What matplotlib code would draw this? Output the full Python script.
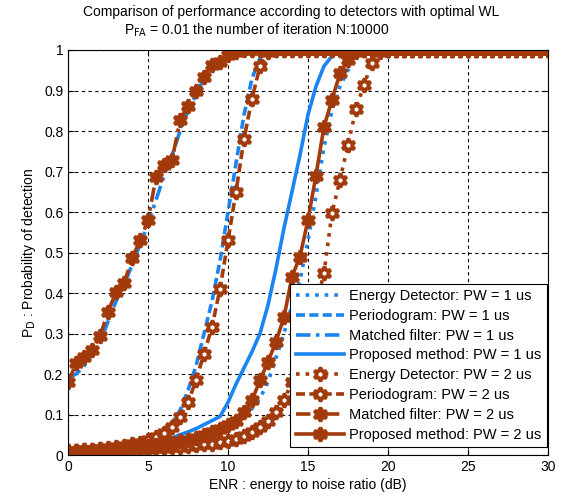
import numpy as np
import matplotlib
matplotlib.use("Agg")
import matplotlib.pyplot as plt

plt.rcParams['font.family'] = ['Liberation Sans', 'DejaVu Sans']

# ENR grid (dB), 0.5 dB steps
enr = np.arange(0, 30.5, 0.5)

# detection probability curves (values up to where they hit 1)
mf_pw1 = [0.19, 0.20, 0.22, 0.25, 0.28, 0.33, 0.38, 0.42, 0.47, 0.52, 0.57, 0.63,
          0.69, 0.74, 0.80, 0.85, 0.89, 0.93, 0.96, 0.98, 0.99, 1.0]
per_pw1 = [0.010, 0.011, 0.012, 0.013, 0.015, 0.017, 0.020, 0.023, 0.027, 0.032,
           0.039, 0.048, 0.060, 0.080, 0.110, 0.160, 0.220, 0.300, 0.380, 0.480,
           0.600, 0.720, 0.840, 0.930, 0.980, 1.0]
prop_pw1 = [0.010, 0.011, 0.012, 0.013, 0.014, 0.015, 0.017, 0.019, 0.021, 0.023,
            0.026, 0.030, 0.035, 0.042, 0.050, 0.057, 0.065, 0.075, 0.085, 0.095,
            0.130, 0.175, 0.215, 0.255, 0.300, 0.370, 0.460, 0.560, 0.650, 0.740,
            0.840, 0.910, 0.960, 0.985, 1.0]
ed_pw1 = [0.010, 0.011, 0.012, 0.013, 0.014, 0.015, 0.016, 0.017, 0.018, 0.020,
          0.022, 0.024, 0.027, 0.030, 0.033, 0.037, 0.041, 0.046, 0.052, 0.060,
          0.070, 0.080, 0.095, 0.115, 0.140, 0.180, 0.240, 0.300, 0.370, 0.430,
          0.530, 0.640, 0.760, 0.850, 0.910, 0.950, 0.980, 1.0]

mf_pw2 = [0.180, 0.226, 0.243, 0.260, 0.294, 0.354, 0.403, 0.424, 0.486, 0.530,
          0.580, 0.687, 0.716, 0.728, 0.827, 0.862, 0.900, 0.934, 0.963, 0.971,
          0.988, 0.996, 1.0]
per_pw2 = [0.010, 0.011, 0.012, 0.013, 0.015, 0.017, 0.019, 0.022, 0.026, 0.030,
           0.036, 0.045, 0.055, 0.070, 0.095, 0.130, 0.185, 0.250, 0.317, 0.410,
           0.530, 0.650, 0.780, 0.880, 0.960, 0.995, 1.0]
prop_pw2 = [0.010, 0.011, 0.012, 0.013, 0.014, 0.015, 0.016, 0.017, 0.018, 0.020,
            0.022, 0.024, 0.027, 0.030, 0.034, 0.038, 0.043, 0.049, 0.056, 0.065,
            0.075, 0.085, 0.105, 0.135, 0.185, 0.230, 0.280, 0.340, 0.440, 0.490,
            0.580, 0.690, 0.810, 0.877, 0.942, 0.975, 0.995, 1.0]
ed_pw2 = [0.010, 0.010, 0.011, 0.011, 0.012, 0.012, 0.013, 0.013, 0.014, 0.015,
          0.016, 0.017, 0.018, 0.019, 0.020, 0.022, 0.024, 0.026, 0.028, 0.031,
          0.035, 0.040, 0.048, 0.058, 0.070, 0.085, 0.105, 0.135, 0.180, 0.235,
          0.300, 0.370, 0.449, 0.597, 0.679, 0.765, 0.854, 0.914, 0.967, 0.995, 1.0]

labels_pw1 = ['Energy Detector: PW = 1 us', 'Periodogram: PW = 1 us',
              'Matched filter: PW = 1 us', 'Proposed method: PW = 1 us']
labels_pw2 = ['Energy Detector: PW = 2 us', 'Periodogram: PW = 2 us',
              'Matched filter: PW = 2 us', 'Proposed method: PW = 2 us']


def full(vals):
    # pad with 1.0 once the curve saturates
    v = np.ones(len(enr))
    v[:len(vals)] = vals
    return v


blue = '#1a84f0'
brown = '#a33a0b'
lw = 2.6

fig = plt.figure(figsize=(5.63, 4.98), dpi=100)
ax = fig.add_axes([0.121, 0.0863, 0.852, 0.8133])

styles = [':', (0, (2.5, 1.2)), (0, (4, 1.5, 1, 1.5)), '-']
pw1 = [ed_pw1, per_pw1, mf_pw1, prop_pw1]
pw2 = [ed_pw2, per_pw2, mf_pw2, prop_pw2]

for vals, ls, lab in zip(pw1, styles, labels_pw1):
    ax.plot(enr, full(vals), color=blue, ls=ls, lw=lw, label=lab)

faces = ['white', 'white', brown, brown]
for vals, ls, lab, fc in zip(pw2, styles, labels_pw2, faces):
    ax.plot(enr, full(vals), color=brown, ls=ls, lw=lw, label=lab,
            marker=(6, 1, 0), ms=10, mfc=fc, mec=brown, mew=2.6)

ax.set_xlim(0, 30)
ax.set_ylim(0, 1)
ax.set_xticks(np.arange(0, 31, 5))
ax.set_yticks(np.round(np.arange(0, 1.01, 0.1), 1))
ax.set_yticklabels(['0', '0.1', '0.2', '0.3', '0.4', '0.5', '0.6', '0.7', '0.8', '0.9', '1'])
ax.tick_params(direction='in', top=True, right=True, labelsize=10, length=4)
ax.grid(True, color='black', ls=(0, (3, 3)), lw=0.8)

ax.set_xlabel('ENR : energy to noise ratio (dB)', fontsize=10, labelpad=3)
ax.set_ylabel(r'P$_\mathrm{D}$ : Probability of detection', fontsize=10)
fig.text(0.517, 0.975, 'Comparison of performance according to detectors with optimal WL',
         ha='center', va='center', fontsize=10)
fig.text(0.455, 0.94, r'P$_\mathrm{FA}$ = 0.01 the number of iteration N:10000',
         ha='center', va='center', fontsize=10)

leg = ax.legend(loc='lower right', bbox_to_anchor=(0.998, 0.02), borderaxespad=0,
                fontsize=10.5, fancybox=False, framealpha=1, edgecolor='black',
                handlelength=3.3, labelspacing=0.4, handletextpad=0.4,
                borderpad=0.35)
leg.get_frame().set_linewidth(0.8)

fig.savefig('out.png', dpi=100)
